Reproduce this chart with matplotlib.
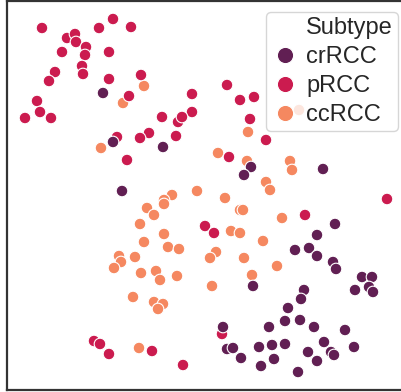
import matplotlib
matplotlib.use("Agg")
import matplotlib.pyplot as plt
from matplotlib.lines import Line2D
import seaborn as sns
import pandas as pd

# embedding coordinates (x right, y up)
cr_x = [103, 113, 163, 122, 251, 244, 323, 335, 317, 295, 309, 317, 333, 336,
        253, 362, 372, 355, 369, 373, 304, 301, 288, 285, 300, 314, 269, 345,
        223, 324, 331, 334, 354, 308, 317, 298, 227, 233, 241, 259, 272, 285,
        274, 261]
cr_y = [299, 250, 245, 201, 225, 217, 223, 168, 157, 142, 144, 136, 130, 123,
        106, 115, 115, 102, 105, 100, 102, 93, 84, 71, 72, 65, 65, 62,
        65, 50, 40, 37, 45, 40, 31, 20, 43, 44, 34, 45, 47, 48,
        33, 26]

p_x = [42, 113, 99, 131, 67, 75, 76, 86, 85, 62, 109, 55, 49, 82,
       83, 109, 141, 129, 37, 40, 25, 51, 192, 192, 162, 178, 182, 149,
       140, 117, 176, 127, 227, 240, 254, 250, 266, 229, 387, 94, 100, 109,
       152, 183, 305, 205, 214, 222]
p_y = [364, 373, 364, 365, 354, 358, 350, 345, 337, 340, 340, 320, 311, 326,
       318, 313, 317, 296, 291, 280, 274, 274, 298, 280, 275, 270, 275, 259,
       254, 255, 256, 232, 307, 292, 295, 273, 252, 235, 193, 51, 48, 38,
       41, 27, 177, 166, 159, 58]

cc_x = [144, 123, 101, 172, 197, 164, 248, 218, 247, 290, 292, 266, 270, 225,
        147, 164, 154, 140, 164, 144, 168, 179, 119, 121, 114, 135, 141, 156,
        160, 177, 133, 154, 163, 158, 139, 240, 243, 282, 231, 240, 263, 216,
        210, 244, 277, 252, 212, 299]
cc_y = [306, 289, 244, 197, 201, 192, 260, 239, 231, 231, 222, 210, 202, 194,
        184, 188, 177, 168, 158, 150, 145, 143, 136, 130, 124, 135, 119, 121,
        112, 116, 95, 90, 88, 83, 44, 182, 182, 174, 161, 159, 151, 140,
        134, 134, 126, 117, 106, 282]

subtypes = ["crRCC", "pRCC", "ccRCC"]

df = pd.concat([
    pd.DataFrame({"x": cc_x, "y": cc_y, "Subtype": "ccRCC"}),
    pd.DataFrame({"x": p_x, "y": p_y, "Subtype": "pRCC"}),
    pd.DataFrame({"x": cr_x, "y": cr_y, "Subtype": "crRCC"}),
])

sns.set_style("white")
plt.rcParams["font.family"] = ["Liberation Sans", "DejaVu Sans"]

fig = plt.figure(figsize=(4.01, 3.92), dpi=100)
# right spine falls outside the saved picture, as in the reference
ax = fig.add_axes([7 / 401, 2 / 392, 400 / 401, 389 / 392])

sns.scatterplot(data=df, x="x", y="y", hue="Subtype", hue_order=subtypes,
                palette="rocket", s=70, edgecolor="white", linewidth=0.8,
                ax=ax)

ax.set_xlim(7, 407)
ax.set_ylim(2, 391)
ax.set_xticks([])
ax.set_yticks([])
ax.set_xlabel("")
ax.set_ylabel("")
for sp in ax.spines.values():
    sp.set_linewidth(1.6)
    sp.set_color("#333333")

# old-style seaborn legend: the hue name sits as a blank entry on top
handles, labels = ax.get_legend_handles_labels()
blank = Line2D([], [], linestyle="none", marker="")
handles = [blank] + handles
labels = ["Subtype"] + labels
leg = ax.legend(handles, labels, loc="upper left",
                bbox_to_anchor=(266 / 401, 1 - 12 / 392),
                bbox_transform=fig.transFigure, borderaxespad=0,
                fontsize=17, markerscale=1.4,
                handletextpad=0.3, labelspacing=0.3, borderpad=0.2,
                handlelength=1.2)
for t in leg.get_texts():
    t.set_color("#262626")

fig.savefig("out.png", dpi=100)
